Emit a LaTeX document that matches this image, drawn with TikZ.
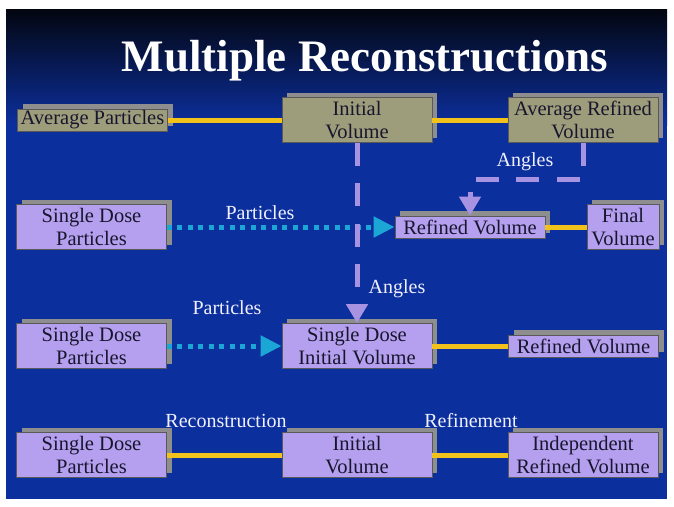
\documentclass[tikz,border=0pt]{standalone}
\usepackage{fontspec}
\setmainfont{Liberation Serif}
\usetikzlibrary{arrows.meta,shadows}
\definecolor{slidetop}{HTML}{03060F}
\definecolor{slideblue}{HTML}{0C2F9E}
\definecolor{khaki}{HTML}{9E9D7B}
\definecolor{lilac}{HTML}{B4A0EE}
\definecolor{boxtext}{HTML}{18162E}
\definecolor{shadowgray}{HTML}{8E8E8E}
\definecolor{linkyellow}{HTML}{F2C21C}
\definecolor{anglelilac}{HTML}{A892E2}
\definecolor{partcyan}{HTML}{1CA6D6}
\definecolor{labelwhite}{HTML}{F0F0FF}
\tikzset{
  boxbase/.style={draw=black!65, line width=0.8pt, text=boxtext, align=center,
    inner sep=0pt, font=\fontsize{20.5}{23}\selectfont, minimum width=150pt,
    general shadow={fill=shadowgray, shadow xshift=5pt, shadow yshift=5pt}},
  tanbox/.style={boxbase, fill=khaki},
  lilacbox/.style={boxbase, fill=lilac},
  highbox/.style={minimum height=45pt},
  lowbox/.style={minimum height=22pt},
  yellowlink/.style={linkyellow, line width=5pt},
  anglelink/.style={anglelilac, line width=5pt, dash pattern=on 23pt off 17.5pt,
    -{Triangle[width=21pt,length=19pt]}},
  particlelink/.style={partcyan, line width=5pt, dash pattern=on 5pt off 5.5pt,
    -{Triangle[width=20pt,length=21pt]}},
  lbl/.style={text=labelwhite, font=\fontsize{20}{23}\selectfont, inner sep=0pt}
}
\begin{document}
\begin{tikzpicture}[x=1pt,y=-1pt]
\useasboundingbox (0,0) rectangle (674,506);
% slide background
\fill[white] (0,0) rectangle (674,506);
\shade[top color=slidetop, bottom color=slideblue] (6,9) rectangle (667,125);
\fill[slideblue] (6,125) rectangle (667,499);
\node[text=white, font=\fontsize{45}{50}\selectfont\bfseries, anchor=base] (title) at (365,71) {Multiple Reconstructions};
% first row
\node[tanbox, lowbox] (avgpart) at (92.5,120) {Average Particles};
\node[tanbox, highbox] (initvol) at (357,120) {Initial\\Volume};
\node[tanbox, highbox] (avgref) at (583,120) {Average Refined\\Volume};
% second row
\node[lilacbox, highbox] (sdpart1) at (91.5,227) {Single Dose\\Particles};
\node[lilacbox, lowbox] (refvol1) at (470,227) {Refined Volume};
\node[lilacbox, highbox, minimum width=72pt] (finalvol) at (623,227) {Final\\Volume};
% third row
\node[lilacbox, highbox] (sdpart2) at (91.5,346) {Single Dose\\Particles};
\node[lilacbox, highbox] (sdinit) at (357,346) {Single Dose\\Initial Volume};
\node[lilacbox, lowbox] (refvol2) at (583.5,346) {Refined Volume};
% fourth row
\node[lilacbox, highbox] (sdpart3) at (91.5,455) {Single Dose\\Particles};
\node[lilacbox, highbox] (initvol2) at (357,455) {Initial\\Volume};
\node[lilacbox, highbox] (indref) at (583,455) {Independent\\Refined Volume};
% labels
\node[lbl] (angles1) at (525,162) {Angles};
\node[lbl] (angles2) at (397,289) {Angles};
\node[lbl] (parts1) at (260,213) {Particles};
\node[lbl] (parts2) at (227,308) {Particles};
\node[lbl] (recon) at (226,421) {Reconstruction};
\node[lbl] (refine) at (471,421) {Refinement};
% links
\draw[yellowlink] (avgpart) -- (initvol);
\draw[yellowlink] (initvol) -- (avgref);
\draw[yellowlink] (refvol1) -- (finalvol);
\draw[yellowlink] (sdinit) -- (refvol2);
\draw[yellowlink] (sdpart3) -- (initvol2);
\draw[yellowlink] (initvol2) -- (indref);
\draw[particlelink] (sdpart1) -- (refvol1);
\draw[particlelink] (sdpart2) -- (sdinit);
\draw[anglelink] (initvol) -- (sdinit);
\draw[anglelink] (avgref.south) -- ++(0,37) -| (refvol1.north);
\end{tikzpicture}
\end{document}
